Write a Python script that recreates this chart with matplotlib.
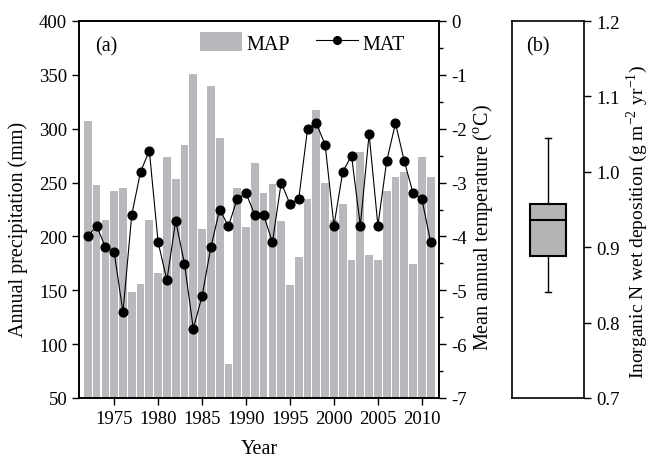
import matplotlib
matplotlib.use("Agg")
import matplotlib.pyplot as plt
from matplotlib.patches import Patch
from matplotlib.lines import Line2D
import numpy as np

plt.rcParams['font.family'] = ['Liberation Serif', 'DejaVu Serif']
plt.rcParams['mathtext.fontset'] = 'stix'
plt.rcParams['axes.unicode_minus'] = False

years = list(range(1972, 2012))
map_mm = [307, 248, 215, 242, 245, 148, 156, 215, 166, 274,
          253, 285, 351, 207, 340, 291, 82, 245, 209, 268,
          240, 249, 214, 155, 181, 235, 317, 250, 215, 230,
          178, 278, 183, 178, 242, 255, 260, 174, 274, 255]
mat_c = [-4.0, -3.8, -4.2, -4.29, -5.41, -3.6, -2.8, -2.41, -4.11, -4.81,
         -3.71, -4.51, -5.71, -5.11, -4.2, -3.5, -3.81, -3.3, -3.2, -3.6,
         -3.6, -4.11, -3.0, -3.4, -3.3, -2.0, -1.9, -2.3, -3.8, -2.8,
         -2.5, -3.8, -2.1, -3.8, -2.6, -1.9, -2.6, -3.2, -3.3, -4.11]

# boxplot statistics for panel (b)
n_whislo = 0.841
n_q1 = 0.888
n_med = 0.936
n_q3 = 0.957
n_whishi = 1.045

bar_color = '#b9b9bd'
fs = 13.5
lfs = 14.5

fig = plt.figure(figsize=(6.51, 4.60), dpi=100)
ax = fig.add_axes([79/651, 1-399/460, (439-79)/651, (399-22)/460])
ax2 = ax.twinx()
ax.bar(years, map_mm, width=0.88, color=bar_color, edgecolor='none', zorder=1)
ax.set_ylim(50, 400)
ax.set_xlim(1971.0, 2011.95)
ax.set_yticks(np.arange(50, 401, 50))
ax.set_xticks(np.arange(1975, 2011, 5))
ax.tick_params(axis='both', direction='out', length=5, width=1, labelsize=fs)
ax.tick_params(axis='x', top=False)
ax.set_ylabel('Annual precipitation (mm)', fontsize=lfs)
ax.yaxis.set_label_coords(-0.142, 0.45)
ax.set_xlabel('Year', fontsize=lfs, labelpad=9)

ax2.plot(years, mat_c, color='black', lw=0.8, marker='o', markersize=6.3,
         markerfacecolor='black', zorder=3)
ax2.set_ylim(-7, 0)
ax2.set_yticks(np.arange(-7, 0.1, 1))
ax2.set_yticks(np.arange(-7, 0.1, 0.5), minor=True)
ax2.tick_params(axis='y', which='major', direction='out', length=5, width=1, labelsize=fs)
ax2.tick_params(axis='y', which='minor', direction='out', length=3, width=1)
ax2.set_ylabel('Mean annual temperature ($^{\\mathregular{o}}$C)', fontsize=lfs)
ax2.yaxis.set_label_coords(1.09, 0.455)
for a in (ax, ax2):
    for s in a.spines.values():
        s.set_linewidth(1.2)

ax.text(0.045, 0.935, '(a)', transform=ax.transAxes, fontsize=lfs, va='center')

handles = [Patch(facecolor=bar_color, edgecolor='none'),
           Line2D([0], [0], color='black', lw=0.8, marker='o', markersize=5.5)]
leg = ax2.legend(handles, ['MAP', 'MAT'], ncol=2, frameon=False,
                 loc='center left', bbox_to_anchor=(0.336, 0.942),
                 borderpad=0, borderaxespad=0,
                 fontsize=lfs, handlelength=2.1, handletextpad=0.2,
                 columnspacing=1.3, handleheight=1.1)

# panel (b)
bx = fig.add_axes([512/651, 1-399/460, (584.3-512)/651, (399-22)/460])
stats = [dict(med=n_med, q1=n_q1, q3=n_q3, whislo=n_whislo, whishi=n_whishi,
              fliers=[], label='')]
bx.bxp(stats, positions=[1], widths=1.0, showfliers=False, patch_artist=True,
       capwidths=0.17,
       boxprops=dict(facecolor='#b4b4b4', edgecolor='black', linewidth=1.5),
       medianprops=dict(color='black', linewidth=1.5),
       whiskerprops=dict(color='black', linewidth=1.0),
       capprops=dict(color='black', linewidth=1.0))
bx.set_xlim(0, 2)
bx.set_ylim(0.7, 1.2)
bx.set_xticks([])
bx.set_yticks(np.arange(0.7, 1.201, 0.1))
bx.yaxis.tick_right()
bx.yaxis.set_label_position('right')
bx.tick_params(axis='y', direction='out', length=5, width=1, labelsize=fs,
               left=False, right=True)
bx.set_ylabel('Inorganic N wet deposition (g m$^{\\mathregular{-2}}$ yr$^{\\mathregular{-1}}$)',
              fontsize=14)
bx.yaxis.set_label_coords(1.565, 0.47)
for s in bx.spines.values():
    s.set_linewidth(1.2)
bx.text(0.36, 0.935, '(b)', transform=bx.transAxes, fontsize=lfs, ha='center', va='center')

fig.savefig('out.png', dpi=100)
